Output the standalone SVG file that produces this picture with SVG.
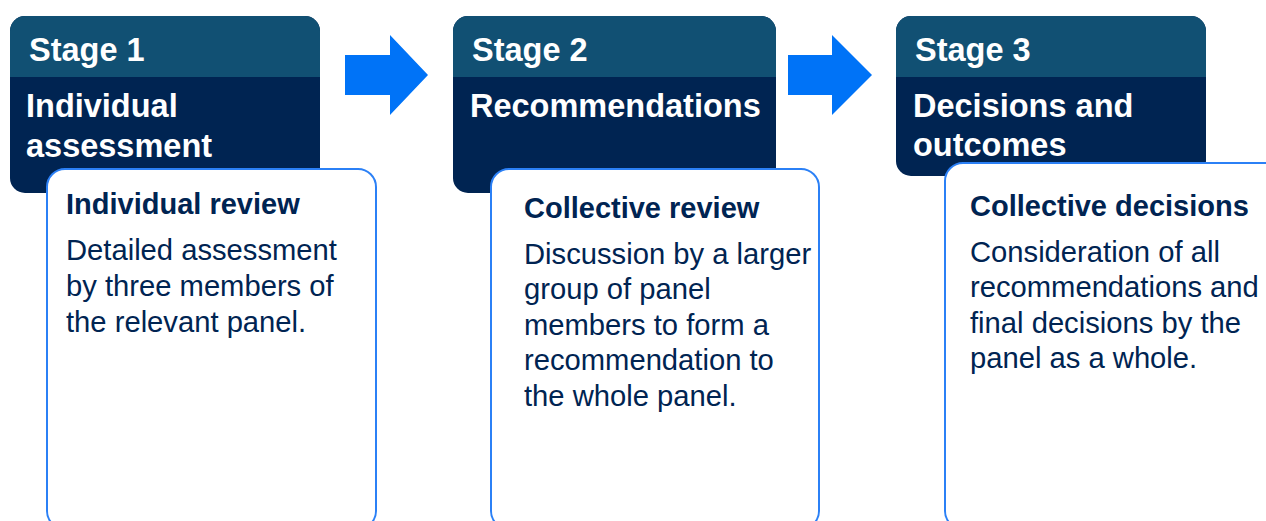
<svg xmlns="http://www.w3.org/2000/svg" width="1266" height="521" viewBox="0 0 1266 521">
<style>
.hdr{fill:#002452}
.band{fill:#115073}
.card{fill:#ffffff;stroke:#2b80f6;stroke-width:2}
.t{font-family:"Liberation Sans",Arial,sans-serif;font-weight:bold;fill:#ffffff;font-size:32.5px}
.h{font-family:"Liberation Sans",Arial,sans-serif;font-weight:bold;fill:#002452;font-size:29px}
.b{font-family:"Liberation Sans",Arial,sans-serif;fill:#002452;font-size:29.2px}
.arr{fill:#0073f7}
</style>
<rect width="1266" height="521" fill="#ffffff"/>
<g id="stage1">
  <rect class="hdr" x="10" y="16" width="310" height="177" rx="15"/>
  <path class="band" d="M10 77 V31 A15 15 0 0 1 25 16 H305 A15 15 0 0 1 320 31 V77 Z"/>
  <text class="t" x="29" y="61">Stage 1</text>
  <text class="t" x="26" y="117">Individual</text>
  <text class="t" x="26" y="157">assessment</text>
  <rect class="card" x="47" y="169" width="329" height="360" rx="18"/>
  <text class="h" x="66" y="214">Individual review</text>
  <text class="b" x="66" y="260">Detailed assessment</text>
  <text class="b" x="66" y="296">by three members of</text>
  <text class="b" x="66" y="332">the relevant panel.</text>
</g>
<g id="stage2">
  <rect class="hdr" x="453" y="16" width="323" height="177" rx="15"/>
  <path class="band" d="M453 77 V31 A15 15 0 0 1 468 16 H761 A15 15 0 0 1 776 31 V77 Z"/>
  <text class="t" x="472" y="61">Stage 2</text>
  <text class="t" x="470" y="117">Recommendations</text>
  <rect class="card" x="491" y="169" width="328" height="360" rx="18"/>
  <text class="h" x="524" y="218">Collective review</text>
  <text class="b" x="524" y="264">Discussion by a larger</text>
  <text class="b" x="524" y="299">group of panel</text>
  <text class="b" x="524" y="335">members to form a</text>
  <text class="b" x="524" y="370">recommendation to</text>
  <text class="b" x="524" y="406">the whole panel.</text>
</g>
<g id="stage3">
  <rect class="hdr" x="896" y="16" width="310" height="160" rx="15"/>
  <path class="band" d="M896 77 V31 A15 15 0 0 1 911 16 H1191 A15 15 0 0 1 1206 31 V77 Z"/>
  <text class="t" x="915" y="61">Stage 3</text>
  <text class="t" x="913" y="117">Decisions and</text>
  <text class="t" x="913" y="156">outcomes</text>
  <rect class="card" x="945" y="163" width="340" height="366" rx="18"/>
  <text class="h" x="970" y="216">Collective decisions</text>
  <text class="b" x="970" y="262">Consideration of all</text>
  <text class="b" x="970" y="297">recommendations and</text>
  <text class="b" x="970" y="333">final decisions by the</text>
  <text class="b" x="970" y="368">panel as a whole.</text>
</g>
<g id="connectors">
  <polygon class="arr" points="345,55 390,55 390,35 428,75 390,115 390,95 345,95"/>
  <polygon class="arr" points="788,55 832,55 832,35 872,75 832,115 832,95 788,95"/>
</g>
</svg>
